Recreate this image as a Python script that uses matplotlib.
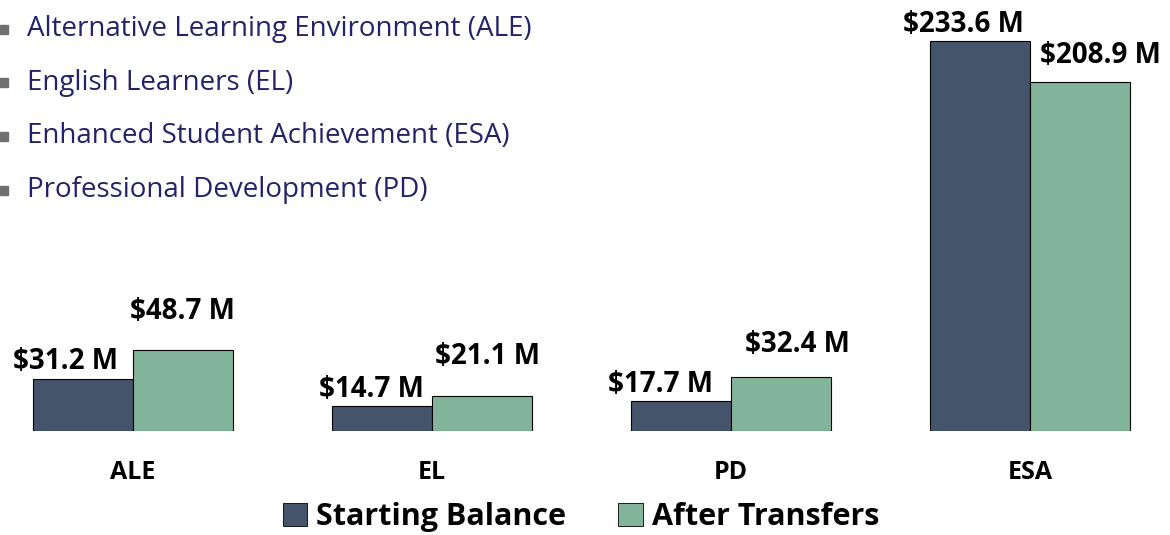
import numpy as np
import matplotlib.pyplot as plt
from matplotlib.patches import Patch, Rectangle

categories = ['ALE', 'EL', 'PD', 'ESA']
starting = [31.2, 14.7, 17.7, 233.6]
after = [48.7, 21.1, 32.4, 208.9]
bullets = ['Alternative Learning Environment (ALE)', 'English Learners (EL)',
           'Enhanced Student Achievement (ESA)', 'Professional Development (PD)']

c_start = '#44546A'
c_after = '#82B49A'
font = 'Open Sans'

fig = plt.figure(figsize=(11.7, 5.35), dpi=100)
ax = fig.add_axes([0, 104 / 535, 1, 431 / 535])

x = np.arange(len(categories))
w = 0.334
b1 = ax.bar(x - w / 2, starting, w, color=c_start, edgecolor='black', linewidth=0.8)
b2 = ax.bar(x + w / 2, after, w, color=c_after, edgecolor='black', linewidth=0.8)

ax.set_xlim(-133 / 299, 1037 / 299)
ax.set_ylim(0, 431 / 1.67)
for s in ax.spines.values():
    s.set_visible(False)
ax.set_yticks([])
ax.set_xticks(x)
ax.set_xticklabels(categories, fontsize=18, fontweight='bold', family=font)
ax.tick_params(axis='x', length=0, pad=21)

# label nudges (points), as placed on the original slide
off_start = [(-13, 2), (-8, 2), (-15, 2), (-12, 1)]
off_after = [(0, 17), (4, 18), (12, 13), (15, 9)]
for rects, vals, offs in [(b1, starting, off_start), (b2, after, off_after)]:
    for r, v, (dx, dy) in zip(rects, vals, offs):
        ax.annotate(f'${v} M', (r.get_x() + r.get_width() / 2, r.get_height()),
                    xytext=(dx, dy), textcoords='offset points', ha='center', va='bottom',
                    fontsize=20, fontweight='bold', family=font, color='black')

for i, t in enumerate(bullets):
    yy = 1 - (29 + 53.7 * i) / 535
    fig.text(27 / 1170, yy, t, fontsize=20, family=font, color='#23236B', va='center')
    fig.add_artist(Rectangle((0, yy - 4.5 / 535), 8 / 1170, 9 / 535,
                             transform=fig.transFigure, color='#707070'))

handles = [Patch(facecolor=c_start, edgecolor='black', linewidth=0.6),
           Patch(facecolor=c_after, edgecolor='black', linewidth=0.6)]
fig.legend(handles, ['Starting Balance', 'After Transfers'], loc='center',
           bbox_to_anchor=(581 / 1170, 1 - 517 / 535), ncol=2, frameon=False,
           prop={'family': font, 'weight': 'bold', 'size': 22},
           handlelength=0.8, handleheight=0.8, handletextpad=0.3, columnspacing=1.7)

fig.savefig('out.png', dpi=100)
